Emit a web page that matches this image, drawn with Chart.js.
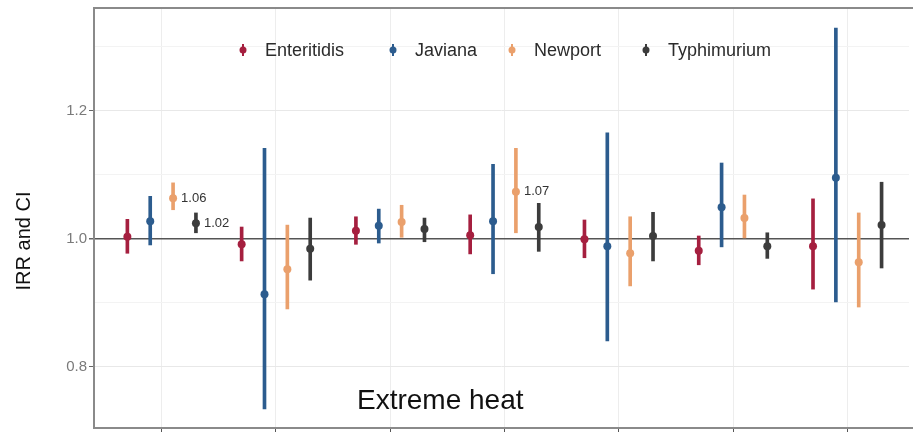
<!DOCTYPE html>
<html>
<head>
<meta charset="utf-8">
<script src="https://cdn.jsdelivr.net/npm/chart.js@4.4.1/dist/chart.umd.min.js"></script>
<style>
    html, body { margin: 0; padding: 0; overflow: hidden; background: #fff; }
    canvas { display: block; }
</style>
</head>
<body>
<canvas id="grafico" width="913" height="432"></canvas>
<script>
// Lag groups along the x axis (one pointrange per serotype in each)
const categories = [1, 2, 3, 4, 5, 6, 7];
const serotypes = ['Enteritidis', 'Javiana', 'Newport', 'Typhimurium'];
const colores = ['#a51f3f', '#2c5c8e', '#eaa06c', '#3c3c3c'];

// IRR estimates with lower / upper confidence limits
const enteritidisIrr  = [1.003, 0.991, 1.012, 1.005, 0.999, 0.981, 0.988];
const enteritidisLow  = [0.977, 0.965, 0.991, 0.976, 0.970, 0.959, 0.921];
const enteritidisHigh = [1.030, 1.018, 1.034, 1.037, 1.029, 1.004, 1.062];

const javianaIrr  = [1.027, 0.913, 1.020, 1.027, 0.988, 1.049, 1.095];
const javianaLow  = [0.990, 0.734, 0.993, 0.945, 0.840, 0.987, 0.901];
const javianaHigh = [1.066, 1.141, 1.046, 1.116, 1.165, 1.118, 1.329];

const newportIrr  = [1.063, 0.952, 1.026, 1.073, 0.977, 1.032, 0.963];
const newportLow  = [1.045, 0.890, 1.002, 1.009, 0.926, 1.001, 0.893];
const newportHigh = [1.087, 1.021, 1.052, 1.141, 1.034, 1.068, 1.040];

const typhimuriumIrr  = [1.024, 0.984, 1.015, 1.018, 1.004, 0.988, 1.021];
const typhimuriumLow  = [1.009, 0.935, 0.995, 0.980, 0.965, 0.969, 0.954];
const typhimuriumHigh = [1.040, 1.032, 1.032, 1.055, 1.041, 1.009, 1.088];

const yTicks = [0.8, 0.9, 1.0, 1.1, 1.2, 1.3];
const yLabels = ['0.8', '', '1.0', '', '1.2', ''];

// points that carry their value as a text label: [serotype, group index]
const etiquetas = [['Newport', 0], ['Typhimurium', 0], ['Newport', 3]];

const irr = [enteritidisIrr, javianaIrr, newportIrr, typhimuriumIrr];
const low = [enteritidisLow, javianaLow, newportLow, typhimuriumLow];
const high = [enteritidisHigh, javianaHigh, newportHigh, typhimuriumHigh];

const FUENTE = "'Liberation Sans', Arial, sans-serif";
const dodge = 0.2;

const datasets = [];
serotypes.forEach((nombre, s) => {
    const desplazamiento = (s - 1.5) * dodge;
    // confidence interval as a thin floating bar
    datasets.push({
        type: 'bar',
        label: nombre + ' CI',
        data: categories.map((c, i) => ({ x: c + desplazamiento, y: [low[s][i], high[s][i]] })),
        backgroundColor: colores[s],
        barThickness: 3,
        grouped: false,
        borderWidth: 0,
        order: 1
    });
    datasets.push({
        type: 'scatter',
        label: nombre,
        data: categories.map((c, i) => ({ x: c + desplazamiento, y: irr[s][i] })),
        backgroundColor: colores[s],
        borderWidth: 0,
        pointRadius: 4,
        order: 0
    });
});

// no extra room for the outer tick labels, the panel fills the canvas
function sinRelleno(scale) {
    scale.paddingTop = 0;
    scale.paddingBottom = 0;
    scale.paddingLeft = 0;
    scale.paddingRight = 0;
}

const decoraciones = {
    id: 'decoraciones',
    afterDatasetsDraw(chart) {
        const ctx = chart.ctx;
        const area = chart.chartArea;
        ctx.save();

        // panel border (the right side runs off the canvas)
        ctx.strokeStyle = '#8a8a8a';
        ctx.lineWidth = 2;
        ctx.beginPath();
        ctx.moveTo(chart.width, area.top);
        ctx.lineTo(area.left, area.top);
        ctx.lineTo(area.left, area.bottom);
        ctx.lineTo(chart.width, area.bottom);
        ctx.stroke();

        // value labels
        ctx.font = '13px ' + FUENTE;
        ctx.fillStyle = '#333';
        ctx.textBaseline = 'middle';
        ctx.textAlign = 'left';
        etiquetas.forEach(([nombre, i]) => {
            const s = serotypes.indexOf(nombre);
            const meta = chart.getDatasetMeta(s * 2 + 1);
            const p = meta.data[i];
            ctx.fillText(irr[s][i].toFixed(2), p.x + 8, p.y);
        });

        // legend inside the panel
        const posX = [243, 393, 512, 646];
        const legY = 50;
        ctx.font = '18px ' + FUENTE;
        serotypes.forEach((nombre, s) => {
            ctx.strokeStyle = colores[s];
            ctx.fillStyle = colores[s];
            ctx.lineWidth = 2;
            ctx.beginPath();
            ctx.moveTo(posX[s], legY - 6);
            ctx.lineTo(posX[s], legY + 6);
            ctx.stroke();
            ctx.beginPath();
            ctx.arc(posX[s], legY, 3.5, 0, Math.PI * 2);
            ctx.fill();
            ctx.fillStyle = '#2b2b2b';
            ctx.fillText(nombre, posX[s] + 22, legY + 1);
        });

        // panel caption
        ctx.font = '28px ' + FUENTE;
        ctx.fillStyle = '#111';
        ctx.textBaseline = 'alphabetic';
        ctx.fillText('Extreme heat', 357, 409);

        // y axis title
        ctx.translate(30, 241);
        ctx.rotate(-Math.PI / 2);
        ctx.font = '20px ' + FUENTE;
        ctx.textAlign = 'center';
        ctx.fillStyle = '#111';
        ctx.fillText('IRR and CI', 0, 0);
        ctx.restore();
    }
};

new Chart(document.getElementById('grafico'), {
    type: 'scatter',
    data: { datasets },
    options: {
        responsive: false,
        animation: false,
        layout: { padding: { top: 8, right: 0, left: 0, bottom: 0 } },
        plugins: {
            legend: { display: false },
            tooltip: { enabled: false }
        },
        scales: {
            x: {
                type: 'linear',
                offset: false,
                min: 0.408,
                max: 7.54,
                afterBuildTicks: scale => { scale.ticks = categories.map(v => ({ value: v })); },
                afterFit: scale => { scale.height = 4; sinRelleno(scale); },
                ticks: { display: false },
                border: { display: false },
                grid: { offset: false, color: '#ededed', tickColor: '#555', tickLength: 4 }
            },
            y: {
                type: 'linear',
                min: 0.704,
                max: 1.3602,
                afterBuildTicks: scale => { scale.ticks = yTicks.map(v => ({ value: v })); },
                afterFit: scale => { scale.width = 94; sinRelleno(scale); },
                border: { display: false },
                ticks: {
                    padding: 2,
                    color: '#7a7a7a',
                    font: { family: FUENTE, size: 15 },
                    callback: (v, i) => yLabels[i]
                },
                grid: {
                    tickLength: 5,
                    color: c => {
                        const i = yTicks.indexOf(c.tick.value);
                        if (c.tick.value === 1.0) return '#555';
                        return yLabels[i] ? '#e8e8e8' : '#f3f3f3';
                    },
                    lineWidth: c => c.tick.value === 1.0 ? 1.5 : 1,
                    tickColor: c => yLabels[yTicks.indexOf(c.tick.value)] ? '#666' : 'transparent'
                }
            }
        }
    },
    plugins: [decoraciones]
});
</script>
</body>
</html>
